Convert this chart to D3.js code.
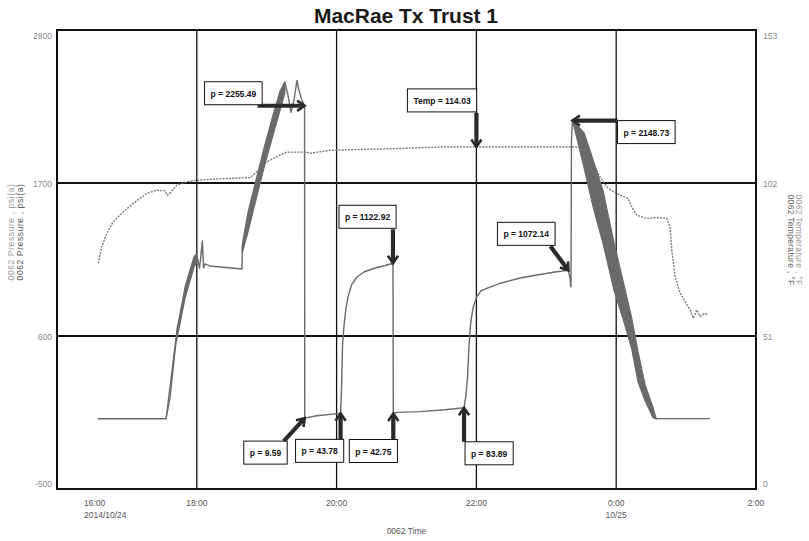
<!DOCTYPE html>
<html><head><meta charset="utf-8">
<script src="https://cdn.jsdelivr.net/npm/d3@7"></script>
<style>
html,body{margin:0;padding:0;background:#fff;}
svg{display:block;font-family:"Liberation Sans",Arial,sans-serif;}
</style></head><body>
<svg id="chart" width="809" height="541"></svg>
<script>
// ---------------- data ----------------
const title = "MacRae Tx Trust 1";
const timeTicks = ["16:00","18:00","20:00","22:00","00:00","02:00"];
const timeTickLabels = ["16:00","18:00","20:00","22:00","0:00","2:00"];
const dateTickLabels = [["16:00","2014/10/24"],["00:00","10/25"]];
const pressureTicks = [-500, 600, 1700, 2800];
const temperatureTicks = [0, 51, 102, 153];
const xTitle = "0062 Time";
const leftTitles = ["0062 Pressure , psi(a)", "0062 Pressure , psi(a)"];
const rightTitles = ["0062 Temperature , °F", "0062 Temperature , °F"];

// pressure trace [time, psi(a)]
const pressure = [
  ["16:35:00",5],["17:33:36",5],["17:37:00",156],["17:42:48",608],["17:49:54",917],
  ["17:57:36",1132],["18:00:12",1168],["18:02:20",1089],["18:03:36",1182],["18:04:44",1283],
  ["18:05:48",1089],["18:07:00",1118],["18:11:20",1103],["18:38:48",1082],["18:39:06",1240],
  ["18:44:00",1419],["18:50:48",1649],["18:57:42",1878],["19:04:36",2093],["19:11:24",2294],
  ["19:15:42",2423],["19:18:18",2330],["19:20:54",2208],["19:23:24",2294],["19:26:00",2438],
  ["19:27:42",2366],["19:30:18",2294],["19:32:30",2255.49],["19:32:40",9.59],["19:42:54",27],
  ["20:03:24",43.78],["20:04:12",214],["20:05:06",537],["20:06:24",680],["20:08:06",802],
  ["20:10:12",895],["20:13:12",974],["20:17:30",1024],["20:23:30",1060],["20:33:00",1089],
  ["20:41:36",1107],["20:48:24",1122.92],["20:48:40",42.75],["20:51:36",51],["21:11:36",56],
  ["21:33:00",70],["21:49:24",83.89],["21:51:06",178],["21:52:24",309],["21:53:42",537],
  ["21:55:06",692],["21:57:06",802],["22:00:18",883],["22:04:00",924],["22:08:54",943],
  ["22:20:18",979],["22:37:30",1017],["22:54:36",1042],["23:07:30",1060],["23:19:00",1072.14],
  ["23:20:24",1010],["23:21:12",953],["23:21:36",2008],["23:22:30",2148.73],["23:32:24",1936],
  ["23:40:06",1699],["23:48:42",1455],["23:58:12",1096],["00:05:54",859],["00:13:12",623],
  ["00:18:42",379],["00:24:48",192],["00:31:36",49],["00:34:12",6],["01:20:30",6]
];
// noisy pressure envelopes [time, low, high]
const pressureBandA = [
  ["17:33:36",5,5],["17:42:00",560,580],["17:43:00",580,650],["17:50:00",875,955],
  ["17:57:36",1095,1170],["18:00:12",1140,1196]
];
const pressureBandB = [
  ["18:39:06",1200,1260],["18:44:00",1350,1490],["18:50:48",1580,1720],["18:57:42",1810,1950],
  ["19:04:36",2020,2165],["19:11:24",2220,2360],["19:15:42",2350,2430]
];
const pressureBandC = [
  ["23:22:30",2148.73,2148.73],["23:32:24",1811,2061],["23:40:06",1530,1868],["23:48:42",1265,1645],
  ["23:58:12",924,1268],["00:05:54",723,995],["00:13:12",512,734],["00:18:42",271,487],
  ["00:24:48",134,250],["00:31:36",13,85],["00:34:12",6,6]
];
// temperature trace [time, °F]
const temperature = [
  ["16:35:30",75.2],["16:38:24",80.8],["16:42:42",85.2],["16:48:18",89.1],["16:56:54",92.4],
  ["17:05:30",95.2],["17:17:00",98.5],["17:25:36",99.6],["17:32:42",99.4],["17:34:42",97.9],
  ["17:37:00",98.7],["17:42:48",101.3],["17:51:18",102.4],["17:59:54",102.9],["18:14:12",103.3],
  ["18:45:42",103.8],["18:51:24",105.7],["19:00:00",109.0],["19:11:24",111.3],["19:17:12",112.3],
  ["19:34:18",112.3],["19:37:12",111.9],["19:54:18",112.9],["20:54:24",113.5],["21:28:48",114.0],
  ["22:00:00",114.03],["22:17:24",114.0],["23:31:48",114.0],["23:37:30",110.7],["23:46:06",104.0],
  ["23:53:00",100.3],["00:00:24",98.5],["00:10:12",96.9],["00:13:18",94.1],["00:17:36",91.3],
  ["00:26:12",90.2],["00:34:48",90.5],["00:43:24",90.2],["00:46:12",87.4],["00:47:42",79.7],
  ["00:50:30",70.8],["00:54:48",65.3],["01:03:24",59.7],["01:06:12",56.9],["01:09:06",59.7],
  ["01:12:00",57.5],["01:16:12",58.6],["01:19:06",58.0]
];
// annotation anchors
const annotations = [
  {axis:"p", time:"19:32:30", value:2255.49, label:"p = 2255.49"},
  {axis:"t", time:"22:00:00", value:114.03,  label:"Temp = 114.03"},
  {axis:"p", time:"23:22:30", value:2148.73, label:"p = 2148.73"},
  {axis:"p", time:"20:48:24", value:1122.92, label:"p = 1122.92"},
  {axis:"p", time:"23:19:00", value:1072.14, label:"p = 1072.14"},
  {axis:"p", time:"19:32:40", value:9.59,    label:"p = 9.59"},
  {axis:"p", time:"20:03:24", value:43.78,   label:"p = 43.78"},
  {axis:"p", time:"20:48:40", value:42.75,   label:"p = 42.75"},
  {axis:"p", time:"21:49:24", value:83.89,   label:"p = 83.89"}
];
// annotation box / arrow-tail offsets (pixels, relative to anchor)
const annotationLayout = [
  {bx:-100, by:-24, tx:-47, ty:0},
  {bx:-69,  by:-58, tx:0,   ty:-34},
  {bx:45,   by:0,   tx:45,  ty:0},
  {bx:-54,  by:-58, tx:0,   ty:-34},
  {bx:-71,  by:-48, tx:-18, ty:-24},
  {bx:-61,  by:23,  tx:-21, ty:23},
  {bx:-45,  by:26,  tx:0,   ty:26},
  {bx:-44,  by:26,  tx:0,   ty:26},
  {bx:1,    by:34,  tx:0,   ty:34}
];

// ---------------- chart ----------------
function toDate(s){
  const [h,m,sec] = s.split(":").map(Number);
  return new Date(2014, 9, h < 12 ? 25 : 24, h, m, sec || 0);
}
const L = 57, R = 756, T = 30, B = 489;
const svg = d3.select("#chart");

const x = d3.scaleTime().domain([toDate("16:00"), toDate("02:00")]).range([L, R]);
const yP = d3.scaleLinear().domain([-500, 2800]).range([B, T]);
const yT = d3.scaleLinear().domain([0, 153]).range([B, T]);

// grid
const grid = svg.append("g");
grid.selectAll("line.h").data(pressureTicks.slice(1, -1)).enter().append("line")
  .attr("x1", L).attr("x2", R).attr("y1", d => yP(d)).attr("y2", d => yP(d))
  .attr("stroke", "#111").attr("stroke-width", 2);
grid.selectAll("line.v").data(timeTicks.slice(1, -1)).enter().append("line")
  .attr("y1", T).attr("y2", B).attr("x1", d => x(toDate(d))).attr("x2", d => x(toDate(d)))
  .attr("stroke", "#111").attr("stroke-width", 1.3);

// temperature
svg.append("path").datum(temperature)
  .attr("d", d3.line().x(d => x(toDate(d[0]))).y(d => yT(d[1])))
  .attr("fill", "none").attr("stroke", "#7a7a7a").attr("stroke-width", 1.4)
  .attr("stroke-dasharray", "2,1.2");

// pressure
const pColor = "#6a6a6a";
svg.append("path").datum(pressure)
  .attr("d", d3.line().x(d => x(toDate(d[0]))).y(d => yP(d[1])))
  .attr("fill", "none").attr("stroke", pColor).attr("stroke-width", 1.4)
  .attr("stroke-linejoin", "round");
const band = d3.area().x(d => x(toDate(d[0]))).y0(d => yP(d[1])).y1(d => yP(d[2]));
[pressureBandA, pressureBandB, pressureBandC].forEach(b => {
  svg.append("path").datum(b).attr("d", band)
    .attr("fill", pColor).attr("stroke", pColor).attr("stroke-width", 1.2);
});

// frame
svg.append("rect").attr("x", L).attr("y", T).attr("width", R - L).attr("height", B - T)
  .attr("fill", "none").attr("stroke", "#111").attr("stroke-width", 2);

// axes labels
const fs = 8.5;
const yLab = (v, i, n) => i === 0 ? -2 : (i === n - 1 ? 9 : 4);
svg.selectAll("text.yl").data(pressureTicks).enter().append("text")
  .attr("x", 52).attr("y", (d, i) => yP(d) + yLab(d, i, pressureTicks.length))
  .attr("text-anchor", "end").attr("font-size", fs).attr("fill", "#8a8a8a").text(d => d);
svg.selectAll("text.yr").data(temperatureTicks).enter().append("text")
  .attr("x", 763).attr("y", (d, i) => yT(d) + yLab(d, i, temperatureTicks.length))
  .attr("text-anchor", "start").attr("font-size", fs).attr("fill", "#8a8a8a").text(d => d);
svg.selectAll("text.xl").data(timeTicks).enter().append("text")
  .attr("x", (d, i) => i === 0 ? x(toDate(d)) + 27 : x(toDate(d)))
  .attr("y", 506).attr("text-anchor", (d, i) => i === 0 ? "start" : "middle")
  .attr("font-size", fs).attr("fill", "#555").text((d, i) => timeTickLabels[i]);
svg.selectAll("text.xd").data(dateTickLabels).enter().append("text")
  .attr("x", (d, i) => i === 0 ? x(toDate(d[0])) + 27 : x(toDate(d[0])))
  .attr("y", 518).attr("text-anchor", (d, i) => i === 0 ? "start" : "middle")
  .attr("font-size", fs).attr("fill", "#555").text(d => d[1]);
svg.append("text").attr("x", (L + R) / 2).attr("y", 534).attr("text-anchor", "middle")
  .attr("font-size", fs).attr("fill", "#555").text(xTitle);

// axis titles
leftTitles.forEach((t, i) => {
  svg.append("text").attr("transform", `translate(${14 + i * 8.5},232) rotate(-90)`)
    .attr("text-anchor", "middle").attr("font-size", fs).attr("letter-spacing", 0.6)
    .attr("fill", i === 0 ? "#9a9a9a" : "#555").text(t);
});
rightTitles.forEach((t, i) => {
  svg.append("text").attr("transform", `translate(${796 - i * 8.5},240) rotate(90)`)
    .attr("text-anchor", "middle").attr("font-size", fs).attr("letter-spacing", 0.3)
    .attr("fill", i === 0 ? "#9a9a9a" : "#666").text(t);
});

// title
svg.append("text").attr("x", 406).attr("y", 23).attr("text-anchor", "middle")
  .attr("font-size", 21).attr("font-weight", "bold").attr("fill", "#1a1a1a")
  .attr("textLength", 184).attr("lengthAdjust", "spacingAndGlyphs").text(title);

// annotations
const ag = svg.append("g");
annotations.forEach((a, i) => {
  const lay = annotationLayout[i];
  const hx = x(toDate(a.time));
  const hy = a.axis === "p" ? yP(a.value) : yT(a.value);
  const tx = hx + lay.tx, ty = hy + lay.ty;
  const ang = Math.atan2(hy - ty, hx - tx);
  const hl = 9, hw = 0.6;
  ag.append("line").attr("x1", tx).attr("y1", ty)
    .attr("x2", hx - 2 * Math.cos(ang)).attr("y2", hy - 2 * Math.sin(ang))
    .attr("stroke", "#2a2a2a").attr("stroke-width", 4.2);
  const p1 = [hx - hl * Math.cos(ang - hw), hy - hl * Math.sin(ang - hw)];
  const p2 = [hx - hl * Math.cos(ang + hw), hy - hl * Math.sin(ang + hw)];
  ag.append("path").attr("d", `M${p1}L${hx},${hy}L${p2}`)
    .attr("fill", "none").attr("stroke", "#2a2a2a").attr("stroke-width", 2.6)
    .attr("stroke-linejoin", "miter");
  const g = ag.append("g");
  const txt = g.append("text").attr("font-size", 8.5).attr("font-weight", "bold")
    .attr("fill", "#111").text(a.label);
  const w = txt.node().getComputedTextLength() + 12;
  const bx = hx + lay.bx, by = hy + lay.by;
  g.insert("rect", "text").attr("x", bx).attr("y", by).attr("width", w).attr("height", 23)
    .attr("fill", "#fff").attr("stroke", "#111").attr("stroke-width", 1);
  txt.attr("x", bx + w / 2).attr("y", by + 15).attr("text-anchor", "middle");
});
</script>
</body></html>
